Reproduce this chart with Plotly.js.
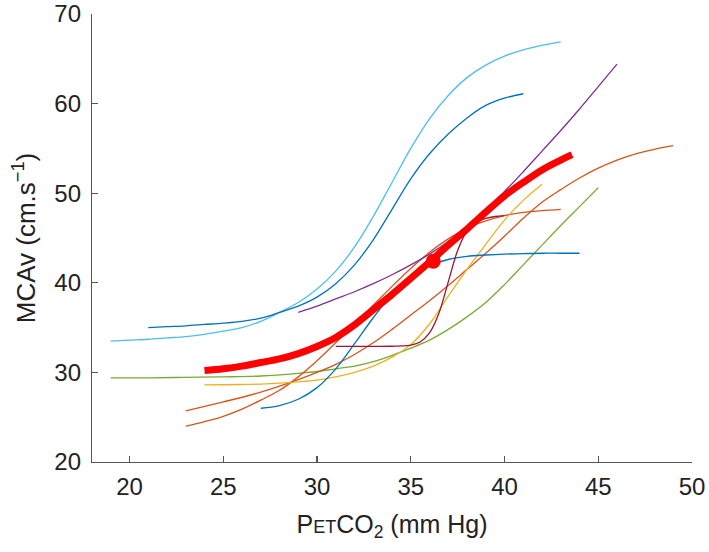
<!DOCTYPE html>
<html>
<head>
<meta charset="utf-8">
<script src="https://cdn.plot.ly/plotly-3.0.1.min.js"></script>
<style>html,body{margin:0;padding:0;background:#fff;}#chart{width:709px;height:552px;}</style>
</head>
<body>
<div id="chart"></div>
<script>
// Individual sigmoid fits (PETCO2 in mm Hg, MCAv in cm/s)
const lightBlueX = [19,20,21,22,23,24,25,26,27,28,29,30,31,32,33,34,35,36,37,38,39,40,41,42,43];
const lightBlueY = [33.5,33.6,33.7,33.85,34.0,34.25,34.6,35.0,35.7,36.7,37.8,39.3,41.3,44.0,47.4,51.2,55.0,58.3,60.9,62.9,64.3,65.3,66.0,66.5,66.9];

const darkBlueX = [21,22,23,24,25,26,27,28,29,30,31,32,33,34,35,36,37,38,39,40,41];
const darkBlueY = [35.0,35.1,35.2,35.35,35.5,35.7,36.05,36.7,37.4,38.4,39.9,42.0,44.8,48.2,51.6,54.4,56.6,58.4,59.8,60.6,61.1];

const purpleX = [29,30,31,32,33,34,35,36,37,38,39,40,41,42,43,44,45,46];
const purpleY = [36.7,37.4,38.2,39.0,39.9,40.9,42.0,43.2,44.6,46.3,48.2,50.2,52.4,54.7,57.0,59.4,61.9,64.4];

const blueX = [27,28,29,30,31,32,33,34,35,36,37,38,39,40,41,42,43,44];
const blueY = [26.0,26.3,27.0,28.3,30.4,33.2,36.1,38.7,40.6,41.9,42.6,42.95,43.1,43.2,43.25,43.3,43.3,43.3];

const darkRedX = [31,32,33,34,34.5,35,35.5,36,36.5,37,37.5,38,38.5,39,39.5,40];
const darkRedY = [32.9,32.9,32.9,32.92,32.95,33.05,33.4,34.4,36.6,40.1,43.6,45.8,46.8,47.2,47.4,47.5];

const yellowX = [24,25,26,27,28,29,30,31,32,33,34,35,36,37,38,39,40,41,42];
const yellowY = [28.6,28.62,28.65,28.7,28.8,28.95,29.15,29.5,30.0,30.7,31.7,33.1,35.4,38.5,41.5,44.3,47.0,49.2,51.0];

const greenX = [19,21,23,25,27,29,30,31,32,33,34,35,36,37,38,39,40,41,42,43,44,45];
const greenY = [29.4,29.4,29.45,29.5,29.6,29.9,30.1,30.4,30.7,31.2,31.9,32.7,33.6,34.8,36.2,37.8,39.8,42.0,44.2,46.4,48.5,50.6];

const orangeAX = [23,25,27,29,30,31,32,33,34,35,36,37,38,39,40,41,42,43,44,45,46,47,48,49];
const orangeAY = [25.7,26.7,27.8,29.2,30.0,30.9,32.0,33.3,34.8,36.4,38.0,39.7,41.5,43.3,45.2,47.2,49.0,50.4,51.7,52.8,53.7,54.4,54.9,55.3];

const orangeBX = [23,24,25,26,27,28,29,30,31,32,33,34,35,36,37,38,39,40,41,42,43];
const orangeBY = [24.0,24.5,25.1,25.9,26.9,28.0,29.5,31.3,33.3,35.4,37.5,39.6,41.6,43.4,44.9,46.1,46.9,47.5,47.85,48.05,48.2];

// Group mean fit
const meanX = [24,25,26,27,28,29,30,31,32,33,34,35,36,37,38,39,40,41,42,43,43.6];
const meanY = [30.2,30.4,30.7,31.1,31.5,32.1,32.9,33.9,35.3,37.0,38.7,40.5,42.3,44.2,46.0,47.9,49.7,51.2,52.6,53.7,54.3];

// Midpoint of the mean fit
const midX = [36.2];
const midY = [42.4];

function thin(x, y, color) {
  return {x: x, y: y, type: 'scatter', mode: 'lines',
          line: {color: color, width: 1.3, shape: 'spline', smoothing: 1},
          hoverinfo: 'skip'};
}

const data = [
  thin(greenX, greenY, '#77AC30'),
  thin(lightBlueX, lightBlueY, '#4DBEEE'),
  thin(darkBlueX, darkBlueY, '#0072BD'),
  thin(orangeBX, orangeBY, '#D95319'),
  thin(orangeAX, orangeAY, '#D95319'),
  thin(yellowX, yellowY, '#EDB120'),
  thin(blueX, blueY, '#0072BD'),
  thin(purpleX, purpleY, '#7E2F8E'),
  thin(darkRedX, darkRedY, '#A2142F'),
  {x: meanX, y: meanY, type: 'scatter', mode: 'lines',
   line: {color: '#FF0000', width: 7, shape: 'spline', smoothing: 1}},
  {x: midX, y: midY, type: 'scatter', mode: 'markers',
   marker: {color: '#FF0000', size: 15, symbol: 'circle'}}
];

const layout = {
  width: 709, height: 552,
  margin: {l: 92, r: 17, t: 14, b: 90},
  paper_bgcolor: '#fff', plot_bgcolor: '#fff',
  showlegend: false,
  font: {family: 'Liberation Sans, Arial, sans-serif', size: 24, color: '#222'},
  xaxis: {
    range: [18, 50], tickvals: [20,25,30,35,40,45,50],
    showgrid: false, zeroline: false, showline: true, linecolor: '#555', linewidth: 1.2,
    ticks: 'inside', ticklen: 6, tickcolor: '#555', tickwidth: 1.2,
    ticklabelstandoff: 3,
    tickfont: {size: 24, color: '#222'},
    title: {text: 'P<span style="font-size:18px">ET</span>CO<sub>2</sub> (mm Hg)', font: {size: 25, color: '#222'}, standoff: 16}
  },
  yaxis: {
    range: [20, 70], tickvals: [20,30,40,50,60,70],
    showgrid: false, zeroline: false, showline: true, linecolor: '#555', linewidth: 1.2,
    ticks: 'inside', ticklen: 6, tickcolor: '#555', tickwidth: 1.2,
    ticklabelstandoff: 5,
    tickfont: {size: 24, color: '#222'},
    title: {text: 'MCAv (cm.s<sup>−1</sup>)', font: {size: 26, color: '#222'}, standoff: 11}
  }
};

Plotly.newPlot('chart', data, layout, {staticPlot: true, displayModeBar: false});
</script>
</body>
</html>
